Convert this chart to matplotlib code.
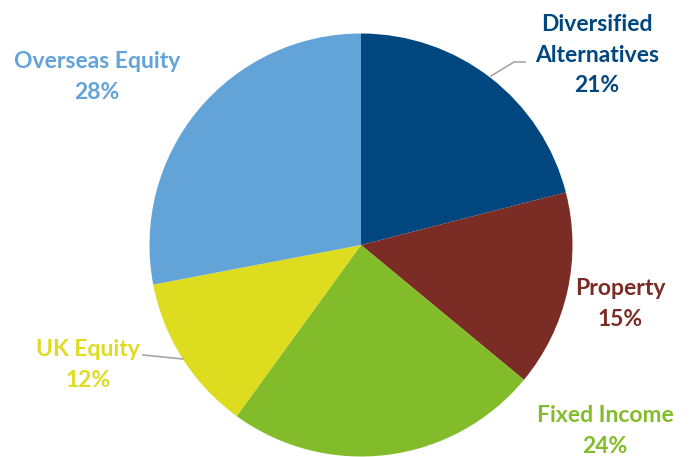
import matplotlib
matplotlib.use("Agg")
import matplotlib.pyplot as plt

categories = ["Diversified\nAlternatives", "Property", "Fixed Income", "UK Equity", "Overseas Equity"]
values = [21, 15, 24, 12, 28]
colors = ["#00467F", "#7B2C25", "#83BC2A", "#DEDC1F", "#62A3D8"]

W, H = 694, 457
fig = plt.figure(figsize=(W / 100, H / 100), dpi=100)
ax = fig.add_axes([0, 0, 1, 1])

cx, cy, r = 361, H - 245, 211.5
ax.pie(values, colors=colors, startangle=90, counterclock=False,
       center=(cx, cy), radius=r, frame=True,
       wedgeprops=dict(linewidth=0))
ax.set_xlim(0, W)
ax.set_ylim(0, H)
ax.set_aspect("equal")
ax.axis("off")

# label positions in pixel coords (x, y of the text block centre)
label_pos = [(597, 55), (620, 304), (605, 431), (88, 365), (97, 77)]
font = dict(family=["Lato", "DejaVu Sans"], fontweight="bold", fontsize=16.5)
for cat, v, col, (lx, ly) in zip(categories, values, colors, label_pos):
    ax.text(lx, H - ly, f"{cat}\n{v}%", color=col, ha="center", va="center",
            linespacing=1.55, **font)

# leader lines
ax.plot([491, 514, 525], [H - 76, H - 62, H - 62], color="#A6A6A6", lw=1.2)
ax.plot([143, 183], [H - 355, H - 359], color="#A6A6A6", lw=1.2)

fig.savefig("out.png", dpi=100)
